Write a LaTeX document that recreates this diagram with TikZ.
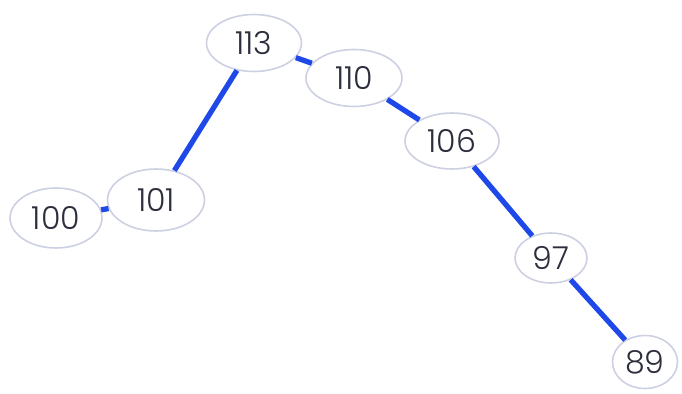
\documentclass[tikz,border=0pt]{standalone}
\usepackage{fontspec}
\setmainfont{Poppins}[UprightFont=* Light]
\usetikzlibrary{shapes.geometric}
\definecolor{nodeborder}{RGB}{204,208,226}
\definecolor{edgeblue}{RGB}{30,72,232}
\definecolor{numtext}{RGB}{44,46,60}
\begin{document}
\begin{tikzpicture}[x=0.02cm,y=-0.02cm,
		key/.style={ellipse, draw=nodeborder, line width=0.9pt, fill=white, text=numtext, inner sep=0pt, font=\fontsize{18}{21}\selectfont},
		link/.style={draw=edgeblue, line width=3pt}]
			\useasboundingbox (0,0) rectangle (682,394);
			\node (n113) [key, minimum width=1.9cm, minimum height=1.14cm] at (254,43) {113};
			\node (n110) [key, minimum width=1.92cm, minimum height=1.14cm] at (354,78) {110};
			\node (n106) [key, minimum width=1.88cm, minimum height=1.12cm] at (452,141) {106};
			\node (n101) [key, minimum width=1.94cm, minimum height=1.24cm] at (156,200) {101};
			\node (n100) [key, minimum width=1.84cm, minimum height=1.2cm] at (56,218) {100};
			\node (n97) [key, minimum width=1.44cm, minimum height=1.0cm] at (551,258) {97};
			\node (n89) [key, minimum width=1.3cm, minimum height=1.06cm] at (645,362) {89};
			\draw [link] (n113) -- (n101);
			\draw [link] (n113) -- (n110);
			\draw [link] (n110) -- (n106);
			\draw [link] (n106) -- (n97);
			\draw [link] (n97) -- (n89);
			\draw [link] (n101) -- (n100);
		\end{tikzpicture}
\end{document}
